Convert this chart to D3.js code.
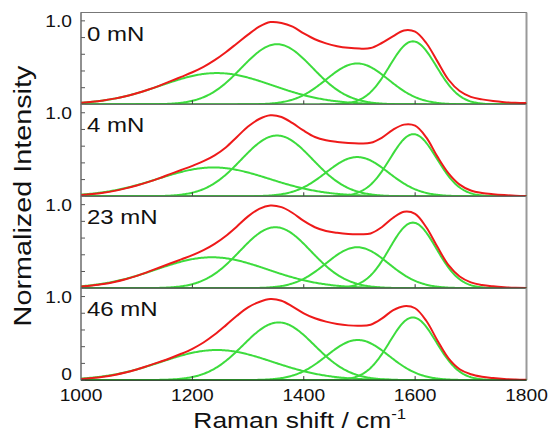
<!DOCTYPE html>
<html>
<head>
<meta charset="utf-8">
<script src="https://cdn.jsdelivr.net/npm/d3@7"></script>
<style>
  body { margin: 0; background: #fff; }
  svg { display: block; font-family: "Liberation Sans", Arial, sans-serif; }
</style>
</head>
<body>
<svg id="chart" width="550" height="434"></svg>
<script>
// Applied loads, one panel each (top to bottom)
const loads = ["0 mN", "4 mN", "23 mN", "46 mN"];

// Raman shift grid (cm-1) of the measured spectra: 1000, 1020, ... 1800
const shift = [1000, 1020, 1040, 1060, 1080, 1100, 1120, 1140, 1160, 1180, 1200, 1220, 1240, 1260,
               1280, 1300, 1320, 1340, 1360, 1380, 1400, 1420, 1440, 1460, 1480, 1500, 1520, 1540,
               1560, 1580, 1600, 1620, 1640, 1660, 1680, 1700, 1720, 1740, 1760, 1780, 1800];

// Normalized measured spectra (red)
const spectrum0mN  = [0.02, 0.032, 0.048, 0.069, 0.097, 0.133, 0.175, 0.222, 0.275, 0.33, 0.385, 0.45, 0.53, 0.625,
                      0.73, 0.835, 0.93, 0.985, 0.975, 0.93, 0.85, 0.78, 0.73, 0.697, 0.677, 0.668, 0.674, 0.735,
                      0.815, 0.885, 0.87, 0.735, 0.515, 0.295, 0.16, 0.09, 0.06, 0.04, 0.027, 0.02, 0.016];
const spectrum4mN  = [0.015, 0.027, 0.043, 0.065, 0.095, 0.13, 0.17, 0.215, 0.265, 0.315, 0.365, 0.42, 0.49, 0.585,
                      0.71, 0.835, 0.925, 0.97, 0.95, 0.875, 0.785, 0.71, 0.67, 0.65, 0.638, 0.633, 0.64, 0.70,
                      0.795, 0.858, 0.845, 0.705, 0.475, 0.275, 0.14, 0.07, 0.04, 0.025, 0.015, 0.008, 0.005];
const spectrum23mN = [0.02, 0.033, 0.05, 0.075, 0.107, 0.147, 0.195, 0.245, 0.295, 0.345, 0.395, 0.455, 0.53, 0.625,
                      0.74, 0.86, 0.95, 0.99, 0.97, 0.9, 0.805, 0.73, 0.685, 0.663, 0.65, 0.647, 0.655, 0.73,
                      0.84, 0.915, 0.89, 0.73, 0.495, 0.275, 0.14, 0.07, 0.038, 0.022, 0.012, 0.006, 0.003];
const spectrum46mN = [0.012, 0.024, 0.04, 0.062, 0.09, 0.127, 0.17, 0.215, 0.262, 0.315, 0.375, 0.45, 0.545, 0.655,
                      0.77, 0.87, 0.935, 0.97, 0.95, 0.88, 0.8, 0.74, 0.7, 0.672, 0.655, 0.65, 0.663, 0.735,
                      0.835, 0.885, 0.86, 0.71, 0.475, 0.26, 0.13, 0.07, 0.04, 0.024, 0.013, 0.007, 0.003];

// Fitted Gaussian bands (green): position (cm-1) and height per load, shared sigma (cm-1)
const bandPos0mN     = [1244, 1352, 1496, 1596];
const bandHeight0mN  = [0.375, 0.72, 0.49, 0.755];
const bandPos4mN     = [1238, 1352, 1496, 1597];
const bandHeight4mN  = [0.345, 0.727, 0.47, 0.744];
const bandPos23mN    = [1235, 1349, 1496, 1596];
const bandHeight23mN = [0.37, 0.73, 0.49, 0.785];
const bandPos46mN    = [1244, 1355, 1497, 1596];
const bandHeight46mN = [0.36, 0.69, 0.48, 0.75];
const bandSigma      = [100, 64, 56, 42];

const xTicks = [1000, 1200, 1400, 1600, 1800];
const yTicks = [0, 0.2, 0.4, 0.6, 0.8, 1.0];

const spectra = [spectrum0mN, spectrum4mN, spectrum23mN, spectrum46mN];
const bandPos = [bandPos0mN, bandPos4mN, bandPos23mN, bandPos46mN];
const bandHeight = [bandHeight0mN, bandHeight4mN, bandHeight23mN, bandHeight46mN];

const svg = d3.select("#chart");
const left = 81, right = 526.5, top0 = 12.5, panelH = 91.9;
const RED = "#ee1a1a", GREEN = "#3ddc3d";
const widen = 1.2; // horizontal glyph stretch of the labels

const x = d3.scaleLinear().domain([1000, 1800]).range([left, right]);
const bandGrid = d3.range(1000, 1801, 2);

function label(g, tx, ty, text, size, anchor, rot) {
  return g.append("text")
    .attr("transform", `translate(${tx},${ty})` + (rot ? ` rotate(${rot})` : "") + ` scale(${widen},1)`)
    .attr("font-size", size)
    .attr("text-anchor", anchor)
    .attr("fill", "#111")
    .text(text);
}

loads.forEach((load, i) => {
  const pTop = top0 + i * panelH, pBot = pTop + panelH;
  const y = d3.scaleLinear().domain([0, 1.1]).range([pBot, pTop]);
  const g = svg.append("g");

  g.append("clipPath").attr("id", "clip" + i)
    .append("rect").attr("x", left).attr("y", pTop).attr("width", right - left).attr("height", panelH);

  // panel frame
  g.append("rect").attr("x", left).attr("y", pTop).attr("width", right - left).attr("height", panelH)
    .attr("fill", "none").attr("stroke", "#777").attr("stroke-width", 1);
  g.append("line").attr("x1", right).attr("x2", right).attr("y1", pTop).attr("y2", pBot)
    .attr("stroke", "#999").attr("stroke-width", 2);

  const plot = g.append("g").attr("clip-path", `url(#clip${i})`);

  // fitted bands
  bandPos[i].forEach((c, k) => {
    const h = bandHeight[i][k], s = bandSigma[k];
    const line = d3.line()
      .x(v => x(v))
      .y(v => y(h * Math.exp(-((v - c) * (v - c)) / (2 * s * s))));
    plot.append("path").datum(bandGrid).attr("d", line)
      .attr("fill", "none").attr("stroke", GREEN).attr("stroke-width", 2);
  });

  // measured spectrum
  const redLine = d3.line().x((d, j) => x(shift[j])).y(d => y(d)).curve(d3.curveCatmullRom);
  plot.append("path").datum(spectra[i]).attr("d", redLine)
    .attr("fill", "none").attr("stroke", RED).attr("stroke-width", 2);

  // bottom axis line of the panel
  g.append("line").attr("x1", left).attr("x2", right).attr("y1", pBot).attr("y2", pBot)
    .attr("stroke", "#163016").attr("stroke-width", 1.2);

  // inward ticks
  yTicks.forEach(t => {
    g.append("line").attr("x1", left).attr("x2", left + 4).attr("y1", y(t)).attr("y2", y(t))
      .attr("stroke", "#555").attr("stroke-width", 1);
  });
  xTicks.slice(1, -1).forEach(t => {
    g.append("line").attr("x1", x(t)).attr("x2", x(t)).attr("y1", pBot).attr("y2", pBot - 4)
      .attr("stroke", "#333").attr("stroke-width", 1);
  });
  g.append("line").attr("x1", left).attr("x2", left).attr("y1", pTop).attr("y2", pBot)
    .attr("stroke", "#666").attr("stroke-width", 1);

  // y tick labels
  label(g, 72, y(1.0) + 6, "1.0", 16, "end");
  if (i === loads.length - 1) label(g, 72, y(0), "0", 16, "end");

  // load label
  label(g, 87, pTop + 28, load, 20, "start");
});

// x tick labels under the bottom panel
const axisY = top0 + loads.length * panelH;
xTicks.forEach(t => label(svg, x(t), axisY + 21, String(t), 16, "middle"));

// axis titles
const xt = svg.append("text")
  .attr("transform", `translate(${(left + right) / 2 - 4},428) scale(${widen},1)`)
  .attr("font-size", 22).attr("text-anchor", "middle").attr("fill", "#111");
xt.append("tspan").text("Raman shift / cm");
xt.append("tspan").attr("font-size", 14).attr("dy", -9).text("-1");

label(svg, 31, 196, "Normalized Intensity", 24, "middle", -90);
</script>
</body>
</html>
